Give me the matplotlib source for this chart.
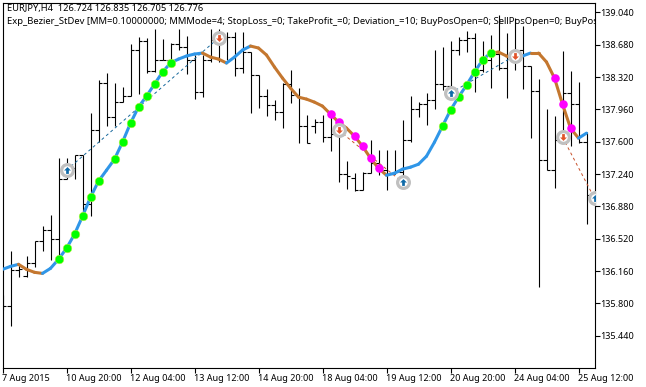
import matplotlib
matplotlib.use("Agg")
import matplotlib.pyplot as plt
from matplotlib.path import Path

plt.rcParams['font.family'] = ['Noto Sans', 'DejaVu Sans']

opens = [135.833,135.767,136.168,136.101,136.246,136.492,136.614,136.514,137.183,137.305,
         137.450,136.904,137.729,138.253,137.874,138.041,138.108,138.621,138.722,138.387,
         138.510,138.510,138.688,138.655,138.510,138.153,138.510,138.733,138.755,138.766,
         138.421,138.599,138.343,138.108,138.008,137.930,138.242,138.119,137.774,137.774,
         137.819,137.651,137.685,137.239,137.194,137.060,137.250,137.361,137.283,137.239,
         137.261,137.618,137.964,138.019,138.064,138.242,138.220,138.621,138.733,138.755,
         138.398,138.510,138.577,138.421,138.555,138.621,138.443,138.164,137.395,137.283,
         137.618,138.142,138.019,137.596]
highs = [135.889,136.380,136.235,136.324,136.492,136.659,136.781,137.417,137.417,137.450,
         137.450,137.919,138.287,138.365,138.253,138.209,138.688,138.766,138.755,138.856,
         138.744,138.700,138.856,138.778,138.566,138.566,138.856,138.856,138.822,138.822,
         138.822,138.599,138.343,138.186,138.064,138.253,138.398,138.198,137.897,137.852,
         137.897,137.897,137.752,137.384,137.250,137.261,137.618,137.506,137.506,137.506,
         137.841,138.108,138.041,138.142,138.621,138.655,138.722,138.766,138.833,138.811,
         138.722,138.789,139.012,138.811,138.978,138.889,138.443,138.298,137.964,137.885,
         138.610,138.387,138.265,137.707]
lows = [135.722,135.543,136.090,136.090,136.201,136.380,136.279,136.291,137.183,137.183,
        136.781,136.770,137.596,137.774,137.774,138.041,138.108,138.131,138.365,138.376,
        138.510,138.454,138.621,138.354,138.075,138.097,138.488,138.488,138.510,138.331,
        138.365,137.919,137.975,137.886,137.841,137.752,138.030,137.584,137.584,137.696,
        137.596,137.495,137.150,137.071,137.049,137.060,137.250,137.227,137.060,137.239,
        137.205,137.596,137.874,137.785,137.964,138.175,138.142,138.566,138.599,138.153,
        138.376,138.198,138.398,138.086,138.398,138.186,137.640,135.978,137.283,137.083,
        137.584,137.550,137.584,136.681]
closes = [135.767,136.168,136.179,136.246,136.492,136.614,136.514,137.183,137.305,137.450,
          136.904,137.729,138.253,137.874,138.041,138.108,138.621,138.722,138.387,138.510,
          138.510,138.688,138.655,138.510,138.153,138.510,138.733,138.755,138.766,138.421,
          138.599,138.343,138.108,138.008,137.930,138.242,138.119,137.774,137.584,137.819,
          137.651,137.685,137.239,137.216,137.060,137.250,137.361,137.283,137.239,137.261,
          137.618,137.964,138.019,138.064,138.242,138.220,138.621,138.733,138.755,138.398,
          138.510,138.577,138.421,138.555,138.621,138.443,138.164,137.395,137.283,137.618,
          138.142,138.019,137.596,137.005]
bezier = [136.179,136.212,136.235,136.179,136.146,136.134,136.190,136.291,136.414,136.570,
          136.770,136.982,137.161,137.283,137.406,137.596,137.807,137.986,138.108,138.242,
          138.376,138.477,138.521,138.555,138.577,138.588,138.543,138.521,138.477,138.543,
          138.621,138.666,138.644,138.566,138.432,138.309,138.198,138.097,138.075,138.041,
          137.997,137.908,137.819,137.752,137.662,137.551,137.417,137.305,137.227,137.250,
          137.295,137.317,137.350,137.439,137.596,137.774,137.952,138.097,138.231,138.376,
          138.510,138.588,138.599,138.555,138.532,138.555,138.588,138.588,138.488,138.309,
          138.019,137.752,137.640,137.696]
falling_ranges = [(2, 5), (25, 28), (31, 48), (61, 64), (66, 72)]
buy_dots = [7,8,9,10,11,12,14,15,16,17,18,19,20,21,55,56,57,58,59,60,61]
sell_dots = [41,42,44,45,46,47,69,70,71]
buy_deals = [(8,137.283),(50,137.150),(56,138.142),(74,136.971)]
sell_deals = [(27,138.755),(42,137.729),(64,138.555),(70,137.651)]
buy_trades = [(8,137.283,27,138.755),(56,138.142,64,138.555)]
sell_trades = [(42,137.729,50,137.150),(70,137.651,74,136.971)]
y_ticks = [139.04,138.68,138.32,137.96,137.60,137.24,136.88,136.52,136.16,135.80,135.44]
x_tick_bars = [0,8,16,24,32,40,48,56,64,72]
x_labels = ['7 Aug 2015','10 Aug 20:00','12 Aug 04:00','13 Aug 12:00','14 Aug 20:00',
            '18 Aug 04:00','19 Aug 12:00','20 Aug 20:00','24 Aug 04:00','25 Aug 12:00']
title_1 = 'EURJPY,H4  126.724 126.835 126.705 126.776'
title_2 = ('Exp_Bezier_StDev [MM=0.10000000; MMMode=4; StopLoss_=0; TakeProfit_=0; '
           'Deviation_=10; BuyPosOpen=0; SellPosOpen=0; BuyPos')

W, H = 646, 387
BLUE, BROWN = '#2f96e8', '#c4772f'
fig = plt.figure(figsize=(W/100, H/100), dpi=100)
ax = fig.add_axes([2.5/W, 1-367.5/H, 592/W, 365/H])
ax.set_xlim(0, 74)
ax.set_ylim(135.086, 139.151)

n = len(opens)
idx = list(range(n))
ax.vlines(idx, lows, highs, color='black', lw=0.8, zorder=2)
ax.hlines(opens, [i-0.4 for i in idx], idx, color='black', lw=0.8, zorder=2)
ax.hlines(closes, idx, [i+0.4 for i in idx], color='black', lw=0.8, zorder=2)

for a, b, c, d in buy_trades:
    ax.plot([a, c], [b, d], color='#16689c', lw=0.7, ls=(0, (3, 3)), zorder=3)
for a, b, c, d in sell_trades:
    ax.plot([a, c], [b, d], color='#c8502a', lw=0.7, ls=(0, (3, 3)), zorder=3)

for i in range(n-1):
    falling = any(s <= i < e for s, e in falling_ranges)
    ax.plot([i, i+1], [bezier[i], bezier[i+1]], color=BROWN if falling else BLUE,
            lw=2.2, solid_capstyle='round', zorder=4)

ax.scatter([i+0.1 for i in buy_dots], [bezier[i] for i in buy_dots], s=38, color='#00ff00',
           edgecolors='#b8f040', linewidths=0.4, zorder=5)
ax.scatter([i+0.1 for i in sell_dots], [bezier[i] for i in sell_dots], s=38, color='#ff00ff',
           linewidths=0, zorder=5)

up = Path([(-1,0),(0,1),(1,0),(0.4,0),(0.4,-1),(-0.4,-1),(-0.4,0),(-1,0)], closed=True)
down = Path([(-1,0),(0,-1),(1,0),(0.4,0),(0.4,1),(-0.4,1),(-0.4,0),(-1,0)], closed=True)
for deals, mk, col in ((buy_deals, up, '#0f6aa8'), (sell_deals, down, '#e0532a')):
    xs = [d[0] for d in deals]
    ys = [d[1] for d in deals]
    ax.scatter(xs, ys, s=72, facecolor='white', edgecolor='#c0c0c0', linewidths=2.3, zorder=6)
    ax.scatter(xs, ys, s=24, marker=mk, color=col, linewidths=0, zorder=7)

for s in ax.spines.values():
    s.set_linewidth(0.8)
    s.set_color('black')
ax.yaxis.tick_right()
ax.set_yticks(y_ticks)
ax.set_yticklabels(['%.3f' % v for v in y_ticks])
ax.set_xticks(x_tick_bars)
ax.set_xticklabels(x_labels, ha='left')
ax.tick_params(axis='y', length=3.6, width=0.8, pad=0.8, labelsize=6.5)
ax.tick_params(axis='x', length=3.6, width=0.8, pad=1.2, labelsize=6.5)

ax.text(4.2/592, 1-6.5/365, title_1, transform=ax.transAxes, fontsize=6.7, va='center', clip_on=True, zorder=8)
ax.text(4.2/592, 1-18.5/365, title_2, transform=ax.transAxes, fontsize=6.82, va='center', clip_on=True, zorder=8)

fig.savefig('out.png', dpi=100)
